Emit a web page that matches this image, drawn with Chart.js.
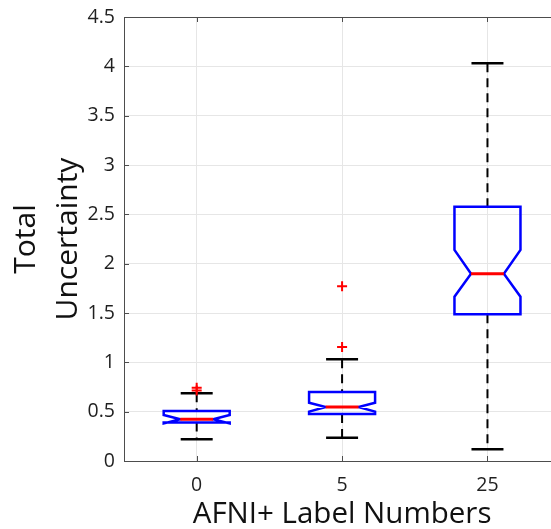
<!DOCTYPE html>
<html><head><meta charset="utf-8">
<script src="https://cdn.jsdelivr.net/npm/chart.js@4"></script>
<style>html,body{margin:0;padding:0;background:#fff}</style>
</head><body>
<canvas id="c" width="551" height="529"></canvas>
<script>
// ---- data ----
const categories = ['0', '5', '25'];
const q1        = [0.390, 0.476, 1.487];
const q3        = [0.507, 0.700, 2.577];
const median    = [0.423, 0.547, 1.898];
const notchLo   = [0.380, 0.500, 1.665];
const notchHi   = [0.466, 0.590, 2.140];
const whiskerLo = [0.220, 0.236, 0.120];
const whiskerHi = [0.686, 1.030, 4.030];
const outliers  = [[0.715, 0.742], [1.155, 1.770], []];
const yTicks    = [0, 0.5, 1, 1.5, 2, 2.5, 3, 3.5, 4, 4.5];
const xTitle    = 'AFNI+ Label Numbers';
const yTitle    = ['Total', 'Uncertainty'];

// ---- style constants ----
const HW = 0.227, NW = 0.113, CAP = 0.11;
const FONT = "'Open Sans', 'DejaVu Sans', sans-serif";

function boxPath(i) {
  const c = i + 1;
  return [
    {x: c - HW, y: q3[i]}, {x: c + HW, y: q3[i]},
    {x: c + HW, y: notchHi[i]}, {x: c + NW, y: median[i]}, {x: c + HW, y: notchLo[i]},
    {x: c + HW, y: q1[i]}, {x: c - HW, y: q1[i]},
    {x: c - HW, y: notchLo[i]}, {x: c - NW, y: median[i]}, {x: c - HW, y: notchHi[i]},
    {x: c - HW, y: q3[i]}
  ];
}
const gap = {x: null, y: null};
const whiskerPts = [], capPts = [], medPts = [], outPts = [];
categories.forEach((_, i) => {
  const c = i + 1;
  whiskerPts.push({x: c, y: whiskerHi[i]}, {x: c, y: q3[i]}, gap, {x: c, y: q1[i]}, {x: c, y: whiskerLo[i]}, gap);
  capPts.push({x: c - CAP, y: whiskerHi[i]}, {x: c + CAP, y: whiskerHi[i]}, gap,
              {x: c - CAP, y: whiskerLo[i]}, {x: c + CAP, y: whiskerLo[i]}, gap);
  medPts.push({x: c - NW, y: median[i]}, {x: c + NW, y: median[i]}, gap);
  outliers[i].forEach(v => outPts.push({x: c, y: v}));
});

const lineDs = (data, color, width, extra) => Object.assign({
  data, showLine: true, borderColor: color, borderWidth: width, pointRadius: 0,
  fill: false, tension: 0, spanGaps: false, borderJoinStyle: 'miter', borderCapStyle: 'butt'
}, extra || {});

const datasets = [
  {data: outPts, showLine: false, pointStyle: 'cross', pointRadius: 5, borderColor: '#ff0000',
   backgroundColor: '#ff0000', pointBorderWidth: 2},
  lineDs(medPts, '#ff0000', 3),
  ...categories.map((_, i) => lineDs(boxPath(i), '#0000ff', 2.5, {borderCapStyle: 'square'})),
  lineDs(capPts, '#000000', 2.5),
  lineDs(whiskerPts, '#000000', 2, {borderDash: [9, 6]})
];

const AXIS = '#4d4d4d';
const framePlugin = {
  id: 'frame',
  afterDraw(chart) {
    const {ctx, chartArea: a, scales: {x, y}} = chart;
    ctx.save();
    ctx.strokeStyle = AXIS; ctx.lineWidth = 1;
    ctx.beginPath();
    ctx.moveTo(a.left, a.top + 0.5); ctx.lineTo(a.right, a.top + 0.5);
    yTicks.forEach(v => { const p = Math.round(y.getPixelForValue(v)) + 0.5; ctx.moveTo(a.left, p); ctx.lineTo(a.left + 5, p); });
    categories.forEach((_, i) => {
      const p = Math.round(x.getPixelForValue(i + 1)) + 0.5;
      ctx.moveTo(p, a.bottom); ctx.lineTo(p, a.bottom - 5);
      ctx.moveTo(p, a.top); ctx.lineTo(p, a.top + 5);
    });
    ctx.stroke();
    // x-axis title, centred on the middle category (the full axis extends past the canvas)
    ctx.fillStyle = '#111';
    ctx.font = "29.5px " + FONT;
    ctx.textAlign = 'center';
    ctx.textBaseline = 'alphabetic';
    ctx.fillText(xTitle, x.getPixelForValue(2), 523);
    ctx.restore();
  }
};

const noPad = s => { s.paddingLeft = 0; s.paddingRight = 0; s.paddingTop = 0; s.paddingBottom = 0; };

new Chart(document.getElementById('c'), {
  type: 'scatter',
  data: {datasets},
  options: {
    responsive: false, animation: false, devicePixelRatio: 1,
    layout: {autoPadding: false, padding: {top: 17, right: 0, left: 0, bottom: 0}},
    plugins: {legend: {display: false}, tooltip: {enabled: false}},
    scales: {
      x: {
        type: 'linear', position: 'bottom', min: 0.5, max: 3.437,
        afterBuildTicks: s => { s.ticks = categories.map((_, i) => ({value: i + 1})); },
        afterFit: s => { s.height = 68; noPad(s); },
        ticks: {callback: (v) => categories[v - 1], font: {family: FONT, size: 19.5}, color: '#1f1f1f',
                padding: 13, maxRotation: 0, autoSkip: false},
        grid: {color: '#e6e6e6', drawTicks: false},
        border: {color: AXIS, width: 1},
        title: {display: false}
      },
      y: {
        type: 'linear', min: 0, max: 4.5,
        afterBuildTicks: s => { s.ticks = yTicks.map(v => ({value: v})); },
        afterFit: s => { s.width = 124; noPad(s); },
        ticks: {callback: v => String(v), font: {family: FONT, size: 19.5}, color: '#1f1f1f', padding: 4},
        grid: {color: '#e6e6e6', drawTicks: true, tickLength: 5, tickColor: 'rgba(0,0,0,0)'},
        border: {color: AXIS, width: 1},
        title: {display: true, text: yTitle, color: '#111',
                font: {family: FONT, size: 30, lineHeight: 1.42}, padding: {top: 5, bottom: 0}}
      }
    }
  },
  plugins: [framePlugin]
});
</script>
</body></html>
